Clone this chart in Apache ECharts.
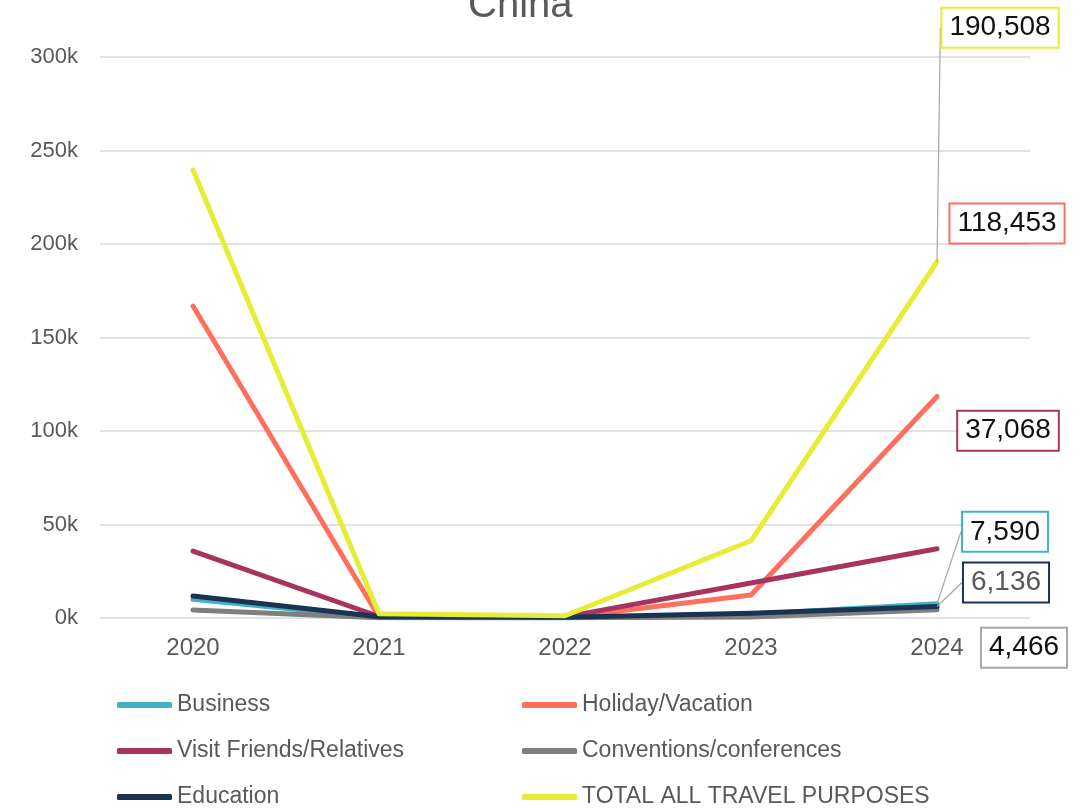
<!DOCTYPE html>
<html>
<head>
<meta charset="utf-8">
<style>
  html, body { margin: 0; padding: 0; background: #ffffff; }
  #chart { width: 1089px; height: 809px; }
</style>
<script src="https://cdn.jsdelivr.net/npm/echarts@6/dist/echarts.min.js"></script>
</head>
<body>
<div id="chart"></div>
<script>
// Visitor arrivals from China by travel purpose, 2020–2024
const years = ['2020', '2021', '2022', '2023', '2024'];

const business      = [10000,  300,  150,  2000,   7590];
const holiday       = [166800, 500,  300,  12300,  118453];
const visitFriends  = [35800,  800,  600,  18700,  37068];
const conventions   = [4300,   100,  100,  600,    4466];
const education     = [11800,  700,  400,  2600,   6136];
const totalPurposes = [239600, 2300, 1200, 41300,  190508];

const seriesNames = [
  'Business', 'Holiday/Vacation', 'Visit Friends/Relatives',
  'Conventions/conferences', 'Education', 'TOTAL ALL TRAVEL PURPOSES'
];

const palette = {
  'Business': '#3fb3c5',
  'Holiday/Vacation': '#ff6f5e',
  'Visit Friends/Relatives': '#a8335f',
  'Conventions/conferences': '#7f7f7f',
  'Education': '#1b3352',
  'TOTAL ALL TRAVEL PURPOSES': '#e4ee34'
};

// where each end-of-line callout box sits relative to its point
const calloutShift = {
  'Business': [68, -72],
  'Holiday/Vacation': [70, -173],
  'Visit Friends/Relatives': [71, -118],
  'Conventions/conferences': [87, 38],
  'Education': [69, -24],
  'TOTAL ALL TRAVEL PURPOSES': [63, -234]
};
// callouts joined to their point by a thin leader line
const withLeader = {
  'Business': true,
  'Education': true,
  'TOTAL ALL TRAVEL PURPOSES': true
};
const calloutText = { 'Education': '#595959' };
const calloutBorder = { 'Conventions/conferences': '#a6a6a6' };

const values = [business, holiday, visitFriends, conventions, education, totalPurposes];
const FONT = 'Liberation Sans, Arial, sans-serif';

function buildSeries(name, vals) {
  const last = vals.length - 1;
  const leader = { show: !!withLeader[name], lineStyle: { color: '#a6a6a6', width: 1.2 } };
  return {
    name: name,
    type: 'line',
    symbol: 'circle',
    symbolSize: 0,
    showSymbol: true,
    lineStyle: { width: 5, color: palette[name], cap: 'round', join: 'round' },
    itemStyle: { color: palette[name] },
    emphasis: { disabled: true },
    data: vals.map((v, i) => i === last ? {
      value: v,
      label: {
        show: true,
        position: 'inside',
        formatter: p => p.value.toLocaleString('en-US'),
        fontFamily: FONT,
        fontSize: 28,
        color: calloutText[name] || '#111111',
        backgroundColor: '#ffffff',
        borderColor: calloutBorder[name] || palette[name],
        borderWidth: 2,
        padding: [6, 7, 4, 7]
      },
      labelLine: leader
    } : v),
    label: { show: false },
    labelLine: leader,
    labelLayout: { dx: calloutShift[name][0], dy: calloutShift[name][1] }
  };
}

const legendCommon = {
  orient: 'vertical',
  top: 693,
  height: 116,
  padding: 0,
  itemWidth: 55,
  itemHeight: 6,
  itemGap: 22,
  icon: 'roundRect',
  textStyle: { fontFamily: FONT, fontSize: 23, lineHeight: 24, color: '#595959' },
  selectedMode: false
};

const chart = echarts.init(document.getElementById('chart'), null, { renderer: 'canvas' });
chart.setOption({
  animation: false,
  backgroundColor: '#ffffff',
  title: {
    text: 'China',
    left: 463,
    top: -19,
    textStyle: { fontFamily: FONT, fontSize: 40, fontWeight: 'normal', color: '#595959' }
  },
  legend: [
    Object.assign({ left: 117, data: [seriesNames[0], seriesNames[2], seriesNames[4]] }, legendCommon),
    Object.assign({ left: 522, data: [seriesNames[1], seriesNames[3], seriesNames[5]] }, legendCommon)
  ],
  grid: { left: 100, right: 59, top: 57, bottom: 191, containLabel: false },
  xAxis: {
    type: 'category',
    data: years,
    boundaryGap: true,
    axisLine: { show: false },
    axisTick: { show: false },
    axisLabel: { margin: 18, fontFamily: FONT, fontSize: 24, color: '#595959' }
  },
  yAxis: {
    type: 'value',
    min: 0,
    max: 300000,
    interval: 50000,
    axisLine: { show: false },
    axisTick: { show: false },
    splitLine: { lineStyle: { color: '#d9d9d9', width: 1.5 } },
    axisLabel: {
      margin: 22,
      formatter: v => (v / 1000) + 'k',
      fontFamily: FONT,
      fontSize: 22,
      color: '#595959'
    }
  },
  series: seriesNames.map((n, i) => buildSeries(n, values[i]))
});
</script>
</body>
</html>
